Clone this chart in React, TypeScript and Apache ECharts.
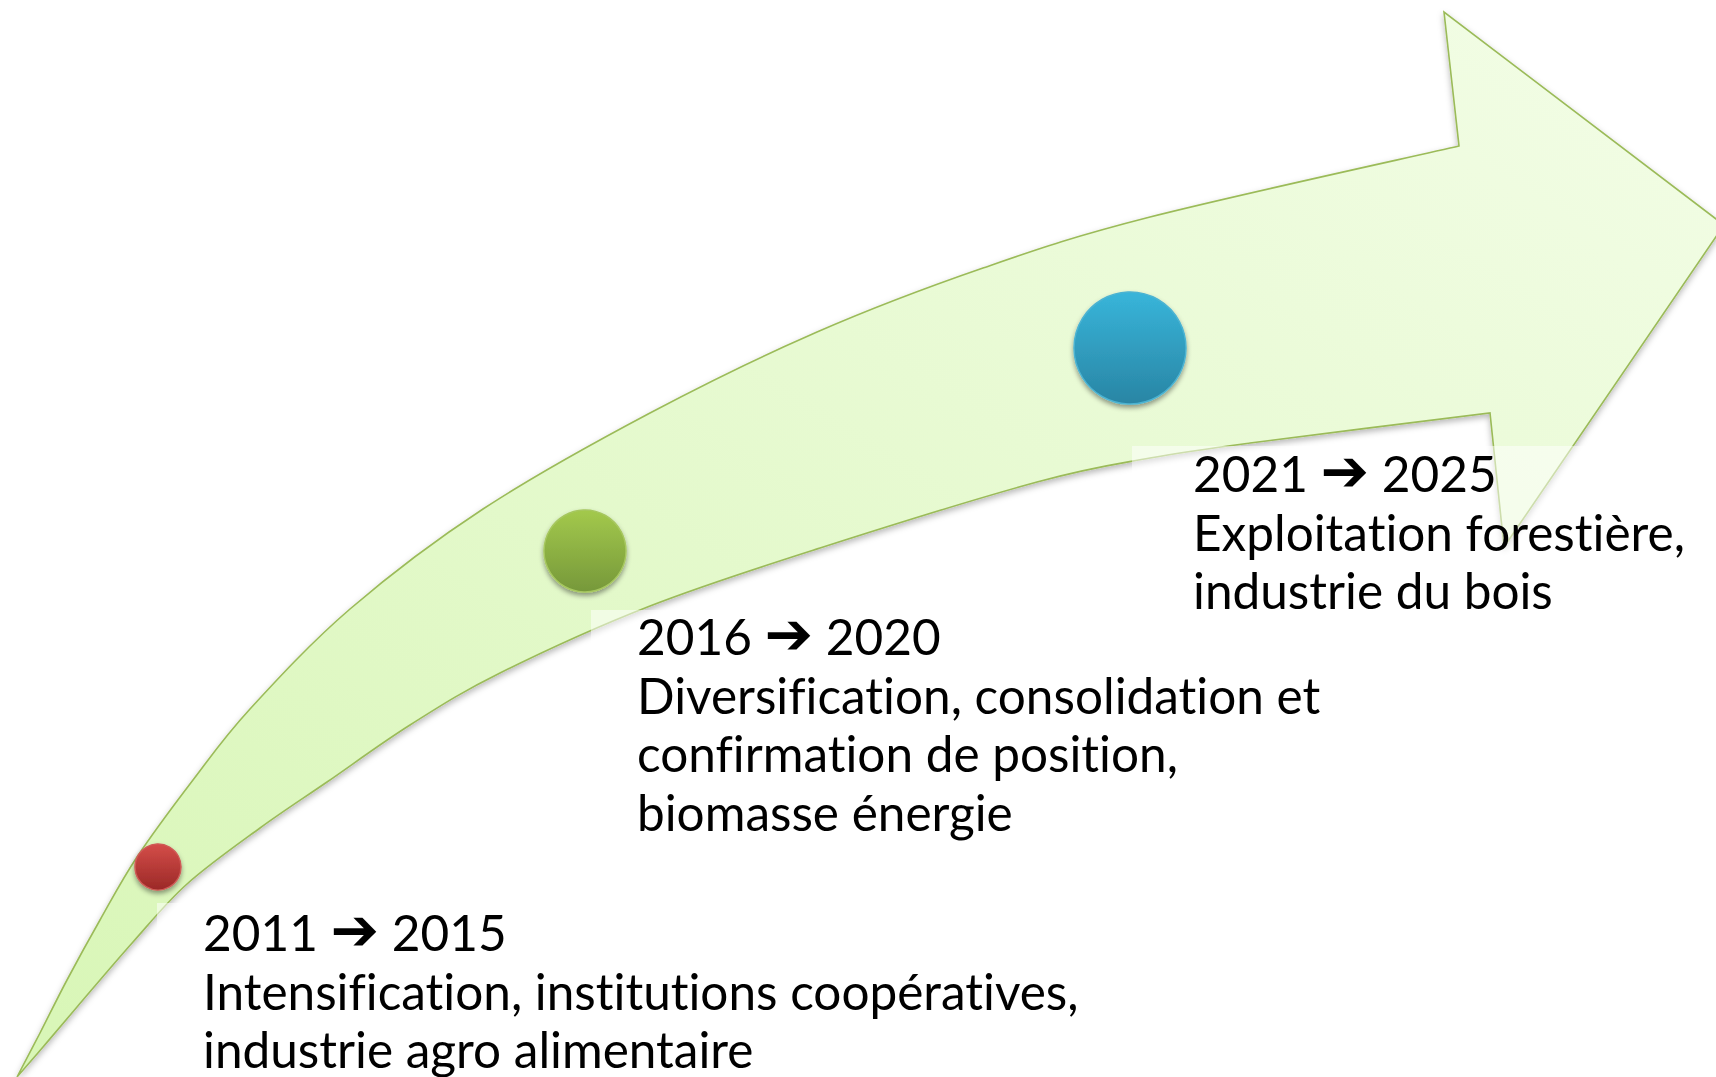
import React, { useEffect, useRef } from "react";
import * as echarts from "echarts";

// ---- content ----
const periodStart: string[] = ["2011", "2016", "2021"];
const periodEnd: string[] = ["2015", "2020", "2025"];
const descriptions: string[][] = [
  ["Intensification, institutions coopératives,", "industrie agro alimentaire"],
  ["Diversification, consolidation et", "confirmation de position,", "biomasse énergie"],
  ["Exploitation forestière,", "industrie du bois"],
];

// ---- layout (pixel geometry of the drawing) ----
const W = 1716;
const H = 1077;
const upperEdge: number[][] = [
  [17, 1077], [40, 1033], [67, 980], [100, 920], [137, 857], [193, 780], [250, 709],
  [350, 609], [483, 509], [650, 413], [817, 332], [983, 268], [1150, 217], [1459, 146],
];
const headPoints: number[][] = [[1444, 12], [1724, 225], [1504, 547]];
const lowerEdge: number[][] = [
  [17, 1077], [43, 1047], [77, 1007], [133, 942], [187, 884], [260, 828], [327, 782],
  [410, 725], [500, 673], [650, 606], [820, 548], [1037, 482], [1150, 458], [1250, 443], [1490, 413],
];
const dotLayout = [
  { cx: 158, cy: 867, r: 23 },
  { cx: 585, cy: 551, r: 41 },
  { cx: 1130, cy: 348, r: 56 },
];
const textLayout = [
  { x: 203, baseline: 950 },
  { x: 637, baseline: 654 },
  { x: 1193, baseline: 491 },
];
const boxLayout = [
  { x: 157, y: 903, w: 930, h: 174 },
  { x: 591, y: 610, w: 740, h: 240 },
  { x: 1132, y: 446, w: 575, h: 180 },
];
const dotStyles = [
  { top: "#d44d49", bottom: "#9b2927", border: "#cf5a56" },
  { top: "#a3c94c", bottom: "#76983a", border: "#a6c75f" },
  { top: "#38b5da", bottom: "#2985a4", border: "#4cb3d2" },
];
const FONT_SIZE = 49.5;
const ARROW_SIZE = 58;
const LINE_H = 58.5;
const FONT_FAMILY = "Lato, 'DejaVu Sans', sans-serif";

function catmull(points: number[][]): string {
  let d = "";
  const n = points.length;
  for (let i = 0; i < n - 1; i++) {
    const p0 = points[Math.max(0, i - 1)];
    const p1 = points[i];
    const p2 = points[i + 1];
    const p3 = points[Math.min(n - 1, i + 2)];
    const c1x = p1[0] + (p2[0] - p0[0]) / 6;
    const c1y = p1[1] + (p2[1] - p0[1]) / 6;
    const c2x = p2[0] - (p3[0] - p1[0]) / 6;
    const c2y = p2[1] - (p3[1] - p1[1]) / 6;
    d += ` C ${c1x.toFixed(2)} ${c1y.toFixed(2)} ${c2x.toFixed(2)} ${c2y.toFixed(2)} ${p2[0]} ${p2[1]}`;
  }
  return d;
}

function buildArrowPath(): string {
  let d = `M ${upperEdge[0][0]} ${upperEdge[0][1]}`;
  d += catmull(upperEdge);
  headPoints.forEach((p) => {
    d += ` L ${p[0]} ${p[1]}`;
  });
  const rev = lowerEdge.slice().reverse();
  d += ` L ${rev[0][0]} ${rev[0][1]}`;
  d += catmull(rev);
  d += " Z";
  return d;
}

export default function App() {
  const ref = useRef<HTMLDivElement>(null);

  useEffect(() => {
    if (!ref.current) return;
    echarts.graphic.registerShape("timelineArrow", echarts.graphic.extendPath(buildArrowPath(), {}));
    const chart = echarts.init(ref.current, null, { renderer: "svg", width: W, height: H });

    const elements: any[] = [];
    elements.push({
      type: "timelineArrow",
      x: 0,
      y: 0,
      z: 1,
      style: {
        fill: {
          type: "linear",
          x: 0,
          y: 1,
          x2: 1,
          y2: 0,
          colorStops: [
            { offset: 0, color: "#d8f6b6" },
            { offset: 1, color: "#f3fde7" },
          ],
        },
        stroke: "#9bbb59",
        lineWidth: 1.6,
        shadowBlur: 6,
        shadowOffsetY: 3,
        shadowColor: "rgba(0,0,0,0.28)",
      },
    });

    dotLayout.forEach((c, i) => {
      const s = dotStyles[i];
      elements.push({
        type: "circle",
        z: 2,
        shape: { cx: c.cx, cy: c.cy, r: c.r },
        style: {
          fill: {
            type: "linear",
            x: 0,
            y: 0,
            x2: 0,
            y2: 1,
            colorStops: [
              { offset: 0, color: s.top },
              { offset: 1, color: s.bottom },
            ],
          },
          stroke: s.border,
          lineWidth: 1.5,
          shadowBlur: 5,
          shadowOffsetY: 3,
          shadowColor: "rgba(0,0,0,0.4)",
        },
      });
    });

    boxLayout.forEach((b) => {
      elements.push({
        type: "rect",
        z: 3,
        shape: { x: b.x, y: b.y, width: b.w, height: b.h },
        style: { fill: "rgba(255,255,255,0.5)" },
      });
    });

    periodStart.forEach((start, i) => {
      const t = textLayout[i];
      const yMid = t.baseline - FONT_SIZE * 0.36;
      elements.push({
        type: "text",
        z: 4,
        style: {
          text: `${start} {a|➔} ${periodEnd[i]}`,
          x: t.x,
          y: yMid,
          fill: "#000000",
          font: `${FONT_SIZE}px ${FONT_FAMILY}`,
          align: "left",
          verticalAlign: "middle",
          rich: {
            a: {
              fontSize: ARROW_SIZE,
              fontWeight: "bold",
              fontFamily: "'DejaVu Sans', sans-serif",
              fill: "#000000",
              padding: [0, 0, 4, 0],
            },
          },
        },
      });
      descriptions[i].forEach((line, j) => {
        elements.push({
          type: "text",
          z: 4,
          style: {
            text: line,
            x: t.x,
            y: t.baseline + (j + 1) * LINE_H - FONT_SIZE * 0.36,
            fill: "#000000",
            font: `${FONT_SIZE}px ${FONT_FAMILY}`,
            align: "left",
            verticalAlign: "middle",
          },
        });
      });
    });

    chart.setOption({
      animation: false,
      backgroundColor: "#ffffff",
      graphic: { elements },
    });

    return () => {
      chart.dispose();
    };
  }, []);

  return (
    <>
      <style>{`svg text, svg tspan { font-variant-ligatures: none !important; font-feature-settings: "liga" 0, "dlig" 0, "clig" 0 !important; }`}</style>
      <div
        ref={ref}
        style={{ position: "absolute", left: 0, top: 0, width: W, height: H, background: "#ffffff" }}
      />
    </>
  );
}
